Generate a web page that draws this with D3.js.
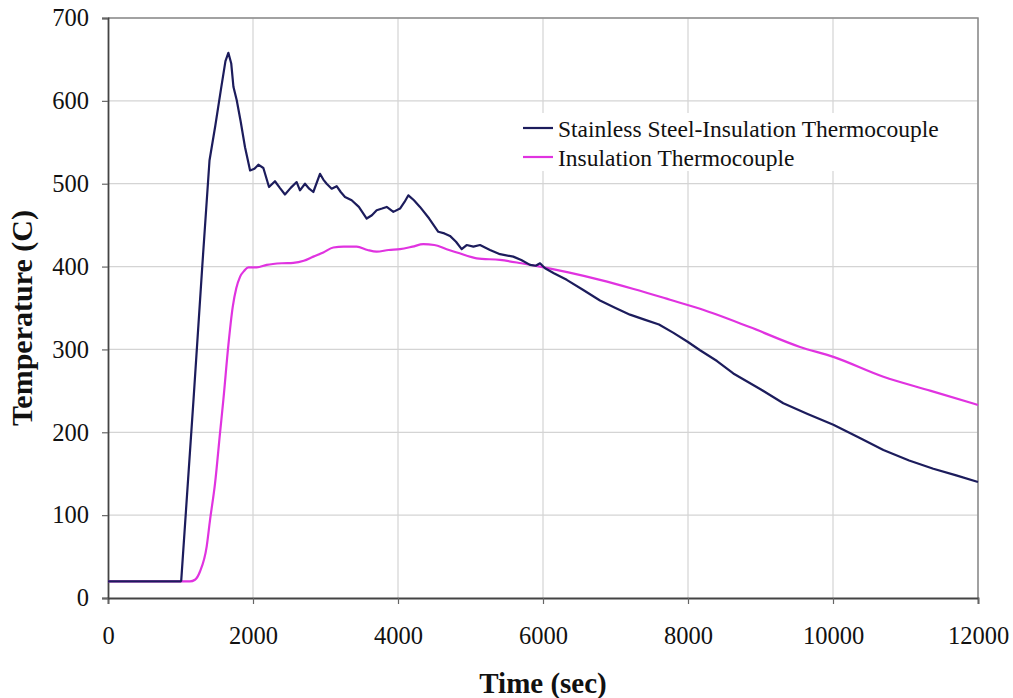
<!DOCTYPE html>
<html>
<head>
<meta charset="utf-8">
<script src="https://cdn.jsdelivr.net/npm/d3@7"></script>
<style>
  html, body { margin: 0; padding: 0; background: #fff; }
  svg { display: block; }
</style>
</head>
<body>
<svg id="chart" width="1013" height="698"></svg>
<script>
// Time (sec) and temperature (C) readings for each thermocouple
const steelTime = [0, 500, 1000, 1010, 1180, 1300, 1400, 1480, 1560, 1620, 1660, 1700, 1730, 1775, 1830, 1890, 1960, 2020, 2074, 2143, 2221, 2303, 2370, 2441, 2520, 2602, 2648, 2717, 2775, 2832, 2924, 2970, 3016, 3085, 3154, 3210, 3269, 3361, 3460, 3568, 3640, 3706, 3780, 3844, 3936, 4028, 4090, 4143, 4220, 4303, 4430, 4556, 4640, 4717, 4800, 4878, 4947, 5040, 5131, 5269, 5407, 5590, 5700, 5821, 5900, 5959, 6028, 6150, 6327, 6550, 6786, 7000, 7200, 7400, 7600, 7800, 8000, 8166, 8400, 8625, 9000, 9315, 9650, 10005, 10350, 10695, 11050, 11384, 11700, 12000];
const steelTemp = [20, 20, 20, 21, 240, 400, 528, 570, 615, 648, 658, 645, 617, 601, 575, 544, 516, 518, 523, 519, 496, 503, 495, 487, 495, 502, 492, 500, 494, 490, 512, 505, 500, 494, 497, 490, 484, 480, 472, 458, 462, 468, 470, 472, 466, 470, 478, 486, 480, 472, 458, 442, 440, 437, 430, 421, 426, 424, 426, 420, 415, 412, 408, 402, 401, 404, 398, 392, 384, 372, 359, 350, 342, 336, 330, 320, 309, 299, 286, 271, 252, 235, 222, 209, 194, 178.5, 166, 156, 148, 140];

const insulTime = [0, 500, 1000, 1131, 1200, 1269, 1361, 1407, 1476, 1545, 1591, 1660, 1720, 1770, 1821, 1880, 1936, 2051, 2189, 2400, 2556, 2700, 2832, 2970, 3108, 3250, 3430, 3580, 3706, 3870, 4028, 4200, 4349, 4500, 4671, 4850, 5085, 5407, 5700, 5959, 6350, 6786, 7250, 7752, 8166, 8850, 9545, 10005, 10695, 11350, 12000];
const insulTemp = [20, 20, 20, 20, 22, 32, 62, 94, 138, 199, 239, 305, 351, 374, 387.6, 395, 399, 399, 402, 404, 404.5, 407, 412, 417, 423, 424, 424, 420, 418, 420, 421, 424, 427, 426, 421, 416, 410, 408, 404, 400, 393, 384, 373, 360, 349, 327, 303, 291, 267, 250, 233];

const xTicks = [0, 2000, 4000, 6000, 8000, 10000, 12000];
const yTicks = [0, 100, 200, 300, 400, 500, 600, 700];

const seriesNames = ["Stainless Steel-Insulation Thermocouple", "Insulation Thermocouple"];
const seriesColors = ["#1c1c5c", "#e033e0"];

const svg = d3.select("#chart");
const plot = { left: 108, right: 978, top: 18, bottom: 598 };

const x = d3.scaleLinear().domain([0, 12000]).range([plot.left, plot.right]);
const y = d3.scaleLinear().domain([0, 700]).range([plot.bottom, plot.top]);

const serif = "'Liberation Serif', 'Times New Roman', serif";

// Grid
const grid = svg.append("g");
grid.selectAll("line.vg").data(xTicks.slice(1)).join("line")
  .attr("x1", d => x(d)).attr("x2", d => x(d))
  .attr("y1", plot.top).attr("y2", plot.bottom)
  .attr("stroke", "#d4d4d4").attr("stroke-width", 1.2);
grid.selectAll("line.hg").data(yTicks.slice(1)).join("line")
  .attr("x1", plot.left).attr("x2", plot.right)
  .attr("y1", d => y(d)).attr("y2", d => y(d))
  .attr("stroke", "#d4d4d4").attr("stroke-width", 1.2);

// Frame: top and right border
svg.append("path")
  .attr("d", `M${plot.left},${plot.top}H${plot.right}V${plot.bottom}`)
  .attr("fill", "none").attr("stroke", "#8a8a8a").attr("stroke-width", 1.5);

// Axes
const xAxis = svg.append("g").attr("transform", `translate(0,${plot.bottom})`)
  .call(d3.axisBottom(x).tickValues(xTicks).tickFormat(d3.format("d")).tickSize(6).tickPadding(23));
const yAxis = svg.append("g").attr("transform", `translate(${plot.left},0)`)
  .call(d3.axisLeft(y).tickValues(yTicks).tickFormat(d3.format("d")).tickSize(6).tickPadding(13));

[xAxis, yAxis].forEach(g => {
  g.select(".domain").attr("stroke", "#444").attr("stroke-width", 1.8);
  g.selectAll(".tick line").attr("stroke", "#666").attr("stroke-width", 1.2);
  g.selectAll(".tick text").attr("font-family", serif).attr("font-size", 24.5).attr("fill", "#111");
});

// Lines
const steel = steelTime.map((t, i) => [t, steelTemp[i]]);
const insul = insulTime.map((t, i) => [t, insulTemp[i]]);
const steelLine = d3.line().x(d => x(d[0])).y(d => y(d[1]));
const insulLine = d3.line().x(d => x(d[0])).y(d => y(d[1])).curve(d3.curveMonotoneX);

svg.append("path").datum(insul).attr("d", insulLine)
  .attr("fill", "none").attr("stroke", seriesColors[1]).attr("stroke-width", 2.2)
  .attr("stroke-linejoin", "round");
svg.append("path").datum(steel).attr("d", steelLine)
  .attr("fill", "none").attr("stroke", seriesColors[0]).attr("stroke-width", 2.2)
  .attr("stroke-linejoin", "round");

// Legend
const legend = svg.append("g");
legend.append("rect").attr("x", 508).attr("y", 113).attr("width", 445).attr("height", 58).attr("fill", "#fff");
seriesNames.forEach((name, i) => {
  const ly = 128 + i * 29;
  legend.append("line").attr("x1", 523).attr("x2", 553).attr("y1", ly).attr("y2", ly)
    .attr("stroke", seriesColors[i]).attr("stroke-width", 2.2);
  legend.append("text").attr("x", 558).attr("y", ly + 8.5)
    .attr("font-family", serif).attr("font-size", 23.5).attr("fill", "#111").text(name);
});

// Axis titles
svg.append("text").attr("x", x(6000)).attr("y", 693).attr("text-anchor", "middle")
  .attr("font-family", serif).attr("font-size", 29).attr("font-weight", "bold").attr("fill", "#111")
  .text("Time (sec)");
svg.append("text").attr("transform", `translate(32,318) rotate(-90)`)
  .attr("text-anchor", "middle")
  .attr("font-family", serif).attr("font-size", 30).attr("font-weight", "bold").attr("fill", "#111")
  .text("Temperature (C)");
</script>
</body>
</html>
